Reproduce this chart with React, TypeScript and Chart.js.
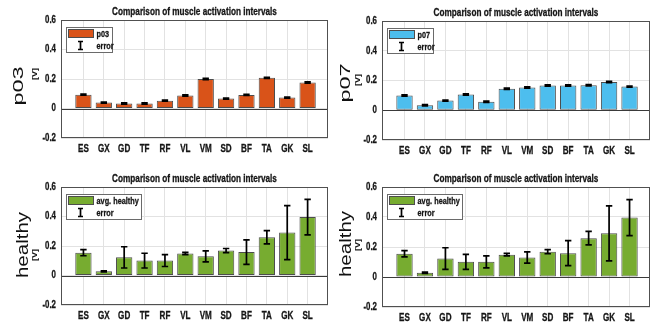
import React, { useEffect, useRef } from "react";
import { Chart, registerables } from "chart.js";

Chart.register(...registerables);

// ---------------- data ----------------
const categories = ["ES", "GX", "GD", "TF", "RF", "VL", "VM", "SD", "BF", "TA", "GK", "SL"];
const yTicks = [-0.2, 0, 0.2, 0.4, 0.6];
const chartTitle = "Comparison of muscle activation intervals";

const p03Values = [0.094, 0.04, 0.034, 0.034, 0.053, 0.088, 0.2, 0.067, 0.092, 0.208, 0.074, 0.176];
const p03Errors = [0.004, 0.004, 0.004, 0.004, 0.004, 0.004, 0.004, 0.004, 0.004, 0.004, 0.004, 0.004];

const p07Values = [0.099, 0.034, 0.065, 0.106, 0.057, 0.145, 0.153, 0.166, 0.166, 0.168, 0.19, 0.159];
const p07Errors = [0.004, 0.004, 0.004, 0.004, 0.004, 0.004, 0.004, 0.004, 0.004, 0.004, 0.004, 0.004];

const healthyValues = [0.155, 0.028, 0.123, 0.101, 0.101, 0.149, 0.13, 0.169, 0.159, 0.259, 0.291, 0.396];
const healthyErrors = [0.021, 0.004, 0.072, 0.05, 0.04, 0.008, 0.037, 0.014, 0.083, 0.045, 0.183, 0.12];

// ---------------- styles / layout ----------------
const SANS = '"Liberation Sans", Arial, sans-serif';
const TEXT_COLOR = "#151515";
const SQUEEZE = 0.77; // horizontal compression of the (narrow-looking) text

type Panel = {
  key: string;
  left: number;
  top: number;
  width: number;
  height: number;
  yAxisW: number;
  xAxisH: number;
  padTop: number;
  padRight: number;
  values: number[];
  errors: number[];
  color: string;
  legendLabel: string;
  bigLabel: string;
  bigFont: number;
  bigScale: number;
  bigX: number;
  bigY: number;
  unitX: number;
  unitY: number;
};

const panels: Panel[] = [
  {
    key: "p03", left: 0, top: 0, width: 330, height: 162,
    yAxisW: 61, xAxisH: 24, padTop: 20, padRight: 2,
    values: p03Values, errors: p03Errors, color: "#D95319", legendLabel: "p03",
    bigLabel: "p03", bigFont: 23.5, bigScale: 0.64, bigX: 19, bigY: 86, unitX: 35, unitY: 74,
  },
  {
    key: "p07", left: 327, top: 0, width: 328, height: 164,
    yAxisW: 55, xAxisH: 24, padTop: 21, padRight: 5,
    values: p07Values, errors: p07Errors, color: "#4DBEEE", legendLabel: "p07",
    bigLabel: "p07", bigFont: 23.5, bigScale: 0.64, bigX: 19, bigY: 83, unitX: 31.5, unitY: 80,
  },
  {
    key: "h1", left: 0, top: 162, width: 330, height: 163,
    yAxisW: 61, xAxisH: 20, padTop: 25, padRight: 2,
    values: healthyValues, errors: healthyErrors, color: "#77AC30", legendLabel: "avg. healthy",
    bigLabel: "healthy", bigFont: 20.5, bigScale: 0.8, bigX: 23, bigY: 83, unitX: 35, unitY: 93,
  },
  {
    key: "h2", left: 327, top: 162, width: 328, height: 163,
    yAxisW: 55, xAxisH: 18, padTop: 25, padRight: 5,
    values: healthyValues, errors: healthyErrors, color: "#77AC30", legendLabel: "avg. healthy",
    bigLabel: "healthy", bigFont: 20.5, bigScale: 0.8, bigX: 19, bigY: 82, unitX: 31, unitY: 83,
  },
];

function squeezedText(ctx: CanvasRenderingContext2D, text: string, x: number, y: number, align: CanvasTextAlign, font: string, sx = SQUEEZE) {
  ctx.save();
  ctx.translate(x, y);
  ctx.scale(sx, 1);
  ctx.font = font;
  ctx.textAlign = align;
  ctx.textBaseline = "middle";
  ctx.fillStyle = TEXT_COLOR;
  ctx.strokeStyle = TEXT_COLOR;
  ctx.lineWidth = 0.3;
  ctx.fillText(text, 0, 0);
  ctx.strokeText(text, 0, 0);
  ctx.restore();
}

function makePlugin(p: Panel) {
  return {
    id: "matlabDecor_" + p.key,
    beforeDatasetsDraw(chart: any) {
      const { ctx, chartArea, scales } = chart;
      const y0 = Math.round(scales.y.getPixelForValue(0)) + 0.5;
      ctx.save();
      ctx.strokeStyle = "#3a3a3a";
      ctx.lineWidth = 1;
      ctx.beginPath();
      ctx.moveTo(chartArea.left, y0);
      ctx.lineTo(chartArea.right, y0);
      ctx.stroke();
      ctx.restore();
    },
    afterDatasetsDraw(chart: any) {
      const { ctx, chartArea, scales } = chart;
      const xs = scales.x;
      const ys = scales.y;
      ctx.save();

      // error bars
      ctx.strokeStyle = "#000";
      ctx.lineWidth = 1.7;
      p.values.forEach((v, i) => {
        const x = xs.getPixelForValue(i + 1);
        const yt = ys.getPixelForValue(v + p.errors[i]);
        const yb = ys.getPixelForValue(v - p.errors[i]);
        ctx.beginPath();
        ctx.moveTo(x, yt);
        ctx.lineTo(x, yb);
        ctx.moveTo(x - 3.2, yt);
        ctx.lineTo(x + 3.2, yt);
        ctx.moveTo(x - 3.2, yb);
        ctx.lineTo(x + 3.2, yb);
        ctx.stroke();
      });

      // axes box
      ctx.strokeStyle = "#505050";
      ctx.lineWidth = 1;
      ctx.strokeRect(
        Math.round(chartArea.left) + 0.5,
        Math.round(chartArea.top) + 0.5,
        Math.round(chartArea.right - chartArea.left) - 1,
        Math.round(chartArea.bottom - chartArea.top) - 1
      );

      // tick labels (positions come from the library's scales)
      const tickFont = "bold 10.5px " + SANS;
      xs.ticks.forEach((t: any) => {
        const label = categories[Math.round(t.value) - 1];
        if (label) squeezedText(ctx, label, xs.getPixelForValue(t.value), chartArea.bottom + 11.5, "center", tickFont);
      });
      ys.ticks.forEach((t: any) => {
        const label = String(Math.round(t.value * 10) / 10);
        squeezedText(ctx, label, chartArea.left - 5, ys.getPixelForValue(t.value), "right", tickFont, 0.75);
      });

      // title
      squeezedText(ctx, chartTitle, (chartArea.left + chartArea.right) / 2, chartArea.top - 7.5, "center", "bold 10.5px " + SANS, 0.78);

      // legend
      const legFont = "bold 9.5px " + SANS;
      ctx.font = legFont;
      const tw = ctx.measureText(p.legendLabel).width * SQUEEZE;
      const lx = Math.round(chartArea.left) + 5.5;
      const ly = Math.round(chartArea.top) + 7.5;
      const lw = Math.round(30 + tw + 3);
      const lh = 25;
      ctx.fillStyle = "#fff";
      ctx.fillRect(lx, ly, lw, lh);
      ctx.strokeStyle = "#6a6a6a";
      ctx.lineWidth = 1;
      ctx.strokeRect(lx, ly, lw, lh);
      ctx.fillStyle = p.color;
      ctx.fillRect(lx + 2, ly + 2, 25, 8);
      ctx.strokeStyle = "#4d4d4d";
      ctx.strokeRect(lx + 2, ly + 2, 25, 8);
      ctx.strokeStyle = "#000";
      ctx.lineWidth = 1.7;
      const ex = lx + 14;
      ctx.beginPath();
      ctx.moveTo(ex, ly + 14);
      ctx.lineTo(ex, ly + 22);
      ctx.moveTo(ex - 2.5, ly + 14);
      ctx.lineTo(ex + 2.5, ly + 14);
      ctx.moveTo(ex - 2.5, ly + 22);
      ctx.lineTo(ex + 2.5, ly + 22);
      ctx.stroke();
      squeezedText(ctx, p.legendLabel, lx + 30, ly + 6.5, "left", legFont);
      squeezedText(ctx, "error", lx + 30, ly + 18.5, "left", legFont);

      // y labels
      ctx.save();
      ctx.translate(p.bigX, p.bigY);
      ctx.rotate(-Math.PI / 2);
      ctx.scale(1, p.bigScale);
      ctx.font = p.bigFont + "px " + SANS;
      ctx.textAlign = "center";
      ctx.textBaseline = "middle";
      ctx.fillStyle = "#111";
      ctx.fillText(p.bigLabel, 0, 0);
      ctx.restore();

      ctx.save();
      ctx.translate(p.unitX, p.unitY);
      ctx.rotate(-Math.PI / 2);
      ctx.scale(1, 0.8);
      ctx.font = "bold 9px " + SANS;
      ctx.textAlign = "center";
      ctx.textBaseline = "middle";
      ctx.fillStyle = TEXT_COLOR;
      ctx.fillText("[V]", 0, 0);
      ctx.restore();

      ctx.restore();
    },
  };
}

function PanelChart({ p }: { p: Panel }) {
  const ref = useRef<HTMLCanvasElement | null>(null);
  useEffect(() => {
    if (!ref.current) return;
    const chart = new Chart(ref.current, {
      type: "bar",
      data: {
        datasets: [
          {
            label: p.legendLabel,
            data: p.values.map((v, i) => ({ x: i + 1, y: v })),
            backgroundColor: p.color,
            borderColor: "#4d4d4d",
            borderWidth: 1,
            borderSkipped: false,
            barPercentage: 0.8,
            categoryPercentage: 1,
          },
        ],
      },
      options: {
        animation: false,
        responsive: false,
        devicePixelRatio: 1,
        layout: { padding: { top: p.padTop, right: p.padRight, left: 0, bottom: 0 } },
        scales: {
          x: {
            type: "linear",
            offset: false,
            min: -0.1,
            max: 13,
            afterBuildTicks: (s: any) => {
              s.ticks = categories.map((_, i) => ({ value: i + 1 }));
            },
            afterFit: (s: any) => {
              s.height = p.xAxisH;
            },
            ticks: { display: false, autoSkip: false },
            grid: { color: "#e2e2e2", drawTicks: false, lineWidth: 1, offset: false },
            border: { display: false },
          },
          y: {
            min: -0.2,
            max: 0.6,
            afterBuildTicks: (s: any) => {
              s.ticks = yTicks.map((v) => ({ value: v }));
            },
            afterFit: (s: any) => {
              s.width = p.yAxisW;
            },
            ticks: { display: false },
            grid: { color: "#e2e2e2", drawTicks: false, lineWidth: 1 },
            border: { display: false },
          },
        },
        plugins: {
          legend: { display: false },
          tooltip: { enabled: false },
          title: { display: false },
        },
      },
      plugins: [makePlugin(p)],
    } as any);
    return () => chart.destroy();
  }, [p]);
  return (
    <canvas
      ref={ref}
      width={p.width}
      height={p.height}
      style={{ position: "absolute", left: p.left, top: p.top, width: p.width, height: p.height }}
    />
  );
}

export default function App() {
  return (
    <div style={{ position: "absolute", left: 0, top: 0, width: 655, height: 325, background: "#fff", overflow: "hidden" }}>
      {panels.map((p) => (
        <PanelChart key={p.key} p={p} />
      ))}
    </div>
  );
}
